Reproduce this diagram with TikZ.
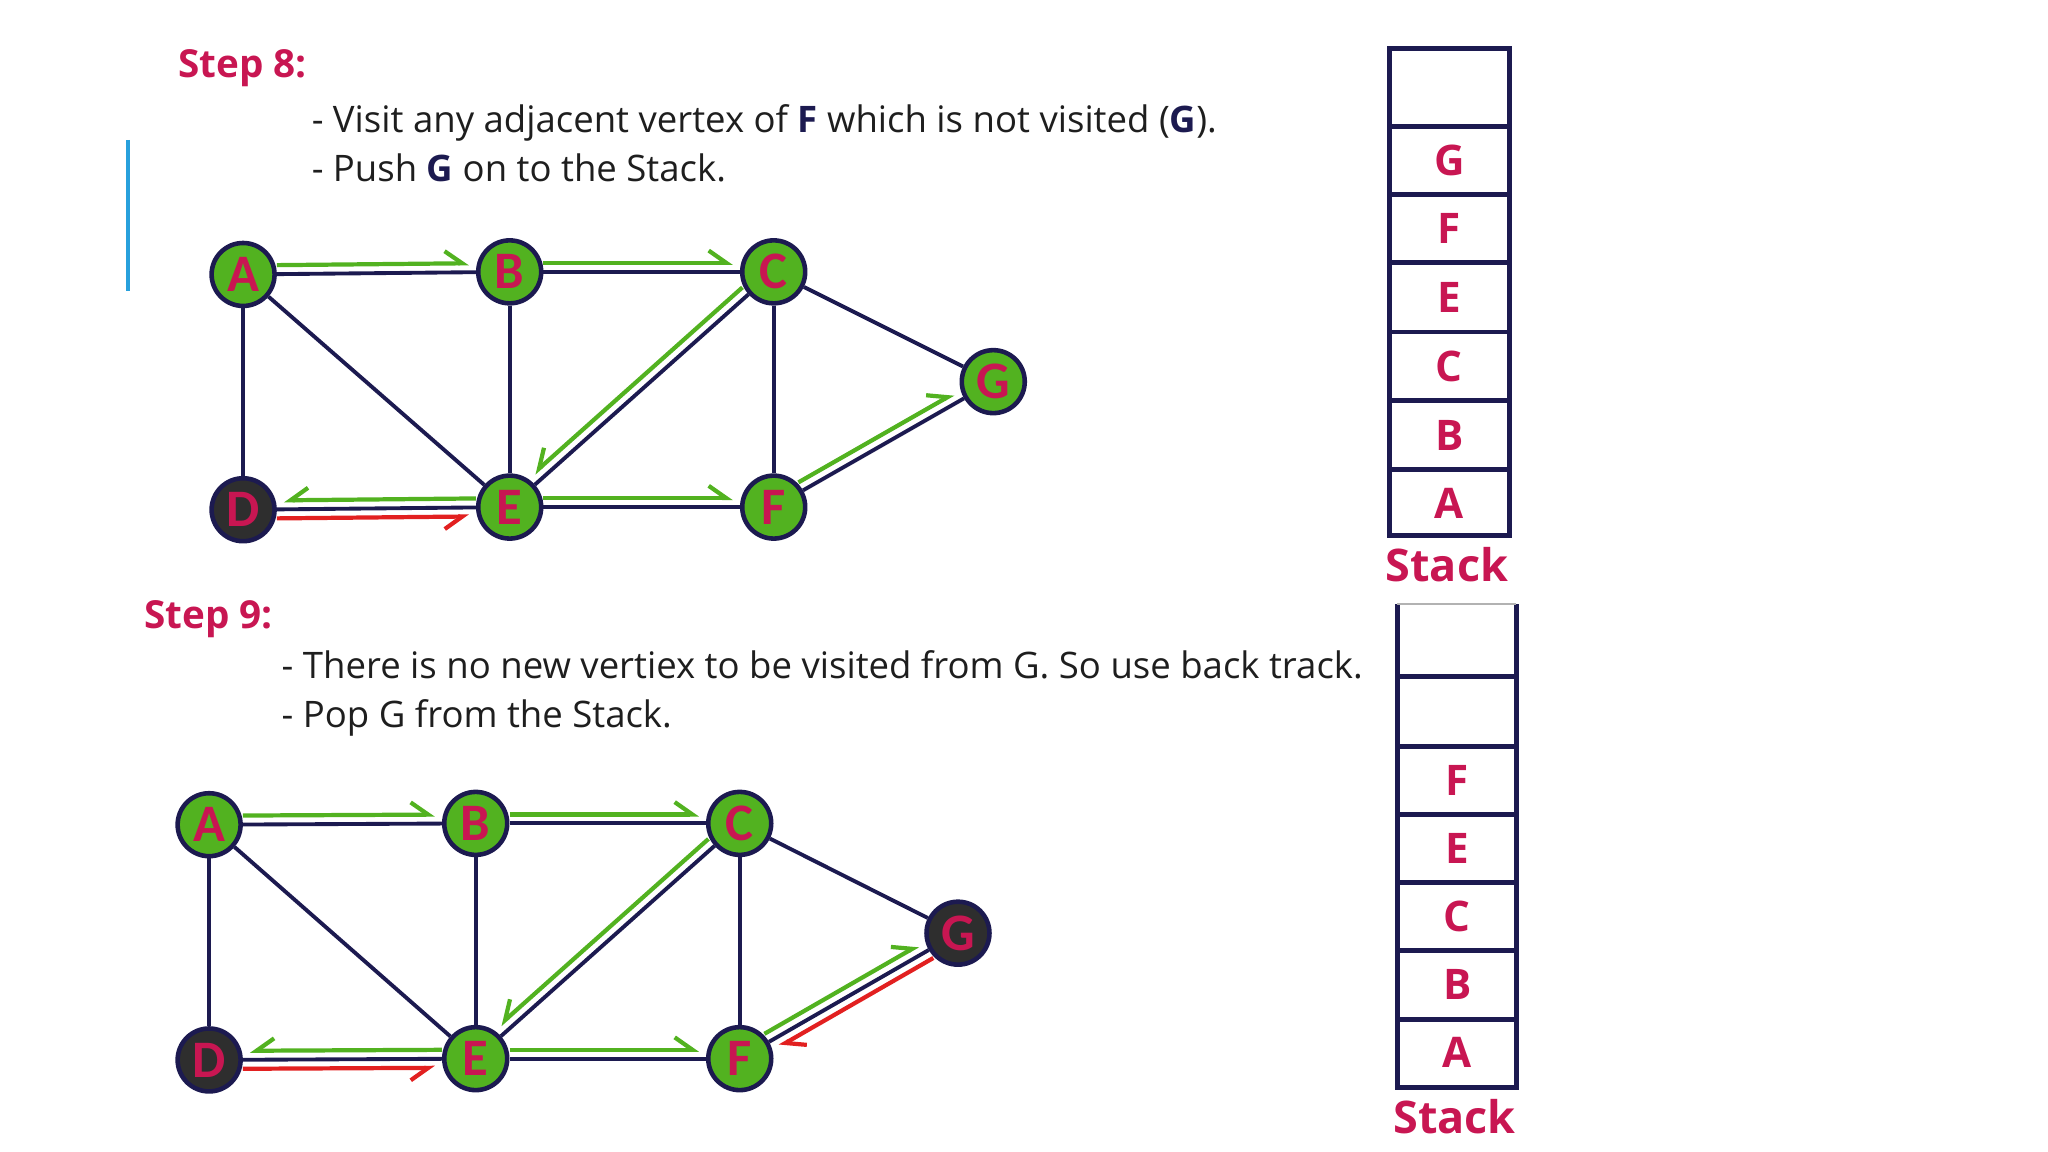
\documentclass[tikz,border=0pt]{standalone}
\usepackage{fontspec}
\setmainfont{Open Sans}
\newfontfamily\nodefont{Carlito}
\usepackage{tikz}
\usetikzlibrary{positioning}
\usetikzlibrary{arrows.meta}

\definecolor{navy}{RGB}{28,26,80}
\definecolor{leaf}{RGB}{82,178,32}
\definecolor{crim}{RGB}{200,22,82}
\definecolor{tred}{RGB}{226,32,32}
\definecolor{sky}{RGB}{40,160,220}
\definecolor{ink}{RGB}{30,30,30}

\newcommand{\keyv}[1]{\textcolor{navy}{\textbf{#1}}}

\tikzset{
  vtx/.style={circle, draw=navy, line width=1.3pt, fill=leaf, minimum size=0.63cm, inner sep=0pt,
    text=crim, font=\nodefont\bfseries\fontsize{15}{15}\selectfont},
  done/.style={vtx, fill=black!82},
  edge/.style={draw=navy, line width=1.1pt},
  visit/.style={leaf, line width=1.2pt, -{Straight Barb[#1,length=5pt,width=7pt]}, shorten >=2pt},
  back/.style={tred, line width=1.2pt, -{Straight Barb[#1,length=5pt,width=7pt]}, shorten >=2pt},
  lift/.style={transform canvas={shift={#1}}},
  head/.style={anchor=base west, inner sep=0pt, text=crim, font=\bfseries\fontsize{11}{12}\selectfont},
  say/.style={anchor=base west, inner sep=0pt, text=ink, font=\fontsize{10.4}{12}\selectfont},
  cell/.style={draw=navy, line width=1.4pt},
  slot/.style={text=crim, font=\bfseries\fontsize{12}{13}\selectfont},
  stk/.style={anchor=base, inner sep=0pt, text=crim, font=\bfseries\fontsize{12.8}{14}\selectfont}
}

\begin{document}
\begin{tikzpicture}[x=0.01307cm, y=-0.01307cm]
\useasboundingbox (0,0) rectangle (1567,881.4);

% ---- step 8
\node[head] (h8) at (136,59) {Step 8:};
\node[say] (t8a) at (238,101) {- Visit any adjacent vertex of \keyv{F} which is not visited (\keyv{G}).};
\node[say] (t8b) at (238,139) {- Push \keyv{G} on to the Stack.};
\draw[sky, line width=1.1pt] (98,107) -- (98,223);

\node[vtx]  (A8) at (186,210) {A};
\node[vtx]  (B8) at (390,208) {B};
\node[vtx]  (C8) at (592,208) {C};
\node[vtx]  (G8) at (760,292) {G};
\node[done] (D8) at (186,390) {D};
\node[vtx]  (E8) at (390,388) {E};
\node[vtx]  (F8) at (592,388) {F};

\foreach \a/\b in {A8/B8, B8/C8, A8/D8, A8/E8, B8/E8, C8/E8, C8/F8, C8/G8, D8/E8, E8/F8, F8/G8}
  \draw[edge] (\a) -- (\b);

\draw[visit=left, lift={(0,0.09cm)}] (A8) -- (B8);
\draw[visit=left, lift={(0,0.09cm)}] (B8) -- (C8);
\draw[visit=right, lift={(-0.061cm,0.069cm)}] (C8) -- (E8);
\draw[visit=right, lift={(0,0.09cm)}] (E8) -- (D8);
\draw[back=right, lift={(0,-0.09cm)}] (D8) -- (E8);
\draw[visit=left, lift={(0,0.09cm)}] (E8) -- (F8);
\draw[visit=left, lift={(-0.046cm,0.08cm)}] (F8) -- (G8);

% stack after step 8
\draw[cell] (1063,37) rectangle (1155,410);
\foreach \y in {96.7,149,201,254,306.5,359}
  \draw[cell] (1063,\y) -- (1155,\y);
\foreach \l/\y in {G/123, F/175, E/227.5, C/280, B/332.8, A/385}
  \node[slot] (s8\l) at (1109,\y) {\l};
\node[stk] (k8) at (1107,445) {Stack};

% ---- step 9
\node[head] (h9) at (110,481) {Step 9:};
\node[say] (t9a) at (215,519) {- There is no new vertiex to be visited from G. So use back track.};
\node[say] (t9b) at (215,557) {- Pop G from the Stack.};

\node[vtx]  (A9) at (160,631) {A};
\node[vtx]  (B9) at (364,630) {B};
\node[vtx]  (C9) at (566,630) {C};
\node[done] (G9) at (733,714) {G};
\node[done] (D9) at (160,811) {D};
\node[vtx]  (E9) at (364,810) {E};
\node[vtx]  (F9) at (566,810) {F};

\foreach \a/\b in {A9/B9, B9/C9, A9/D9, A9/E9, B9/E9, C9/E9, C9/F9, C9/G9, D9/E9, E9/F9, F9/G9}
  \draw[edge] (\a) -- (\b);

\draw[visit=left, lift={(0,0.09cm)}] (A9) -- (B9);
\draw[visit=left, lift={(0,0.09cm)}] (B9) -- (C9);
\draw[visit=right, lift={(-0.061cm,0.069cm)}] (C9) -- (E9);
\draw[visit=right, lift={(0,0.09cm)}] (E9) -- (D9);
\draw[back=right, lift={(0,-0.09cm)}] (D9) -- (E9);
\draw[visit=left, lift={(0,0.09cm)}] (E9) -- (F9);
\draw[visit=left, lift={(-0.046cm,0.08cm)}] (F9) -- (G9);
\draw[back=left, lift={(0.046cm,-0.08cm)}] (G9) -- (F9);

% stack after step 9
\draw[cell] (1069,462) -- (1069,832) -- (1160,832) -- (1160,462);
\draw[gray!60, line width=0.6pt] (1069,462) -- (1160,462);
\foreach \y in {517.5,571,623,675,727,780}
  \draw[cell] (1069,\y) -- (1160,\y);
\foreach \l/\y in {F/597, E/649, C/701, B/753.5, A/805.5}
  \node[slot] (s9\l) at (1115,\y) {\l};
\node[stk] (k9) at (1113,867) {Stack};
\end{tikzpicture}
\end{document}
